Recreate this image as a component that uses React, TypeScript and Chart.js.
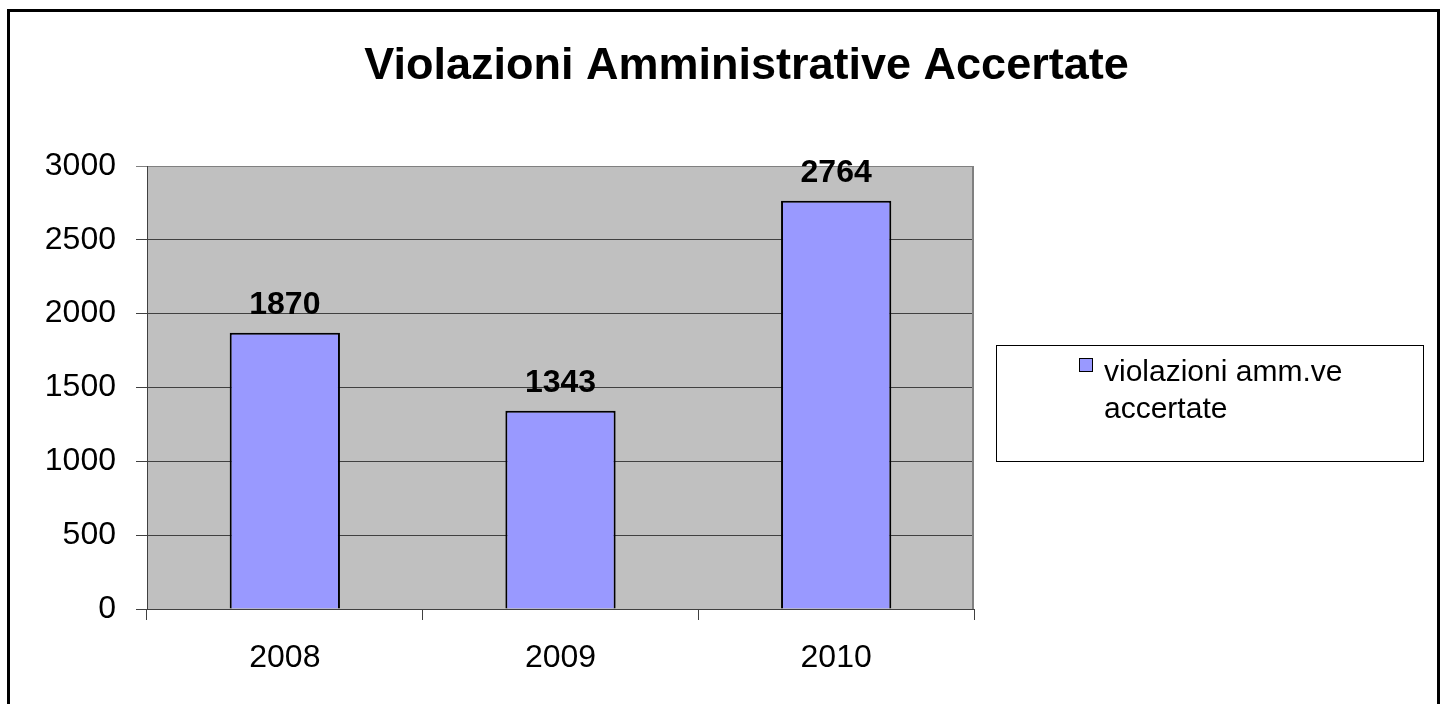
import React, { useEffect, useRef } from 'react';
import { Chart, registerables } from 'chart.js';

Chart.register(...registerables);

const TITLE = 'Violazioni Amministrative Accertate';
const CATEGORIES = ['2008', '2009', '2010'];
const VALUES = [1870, 1343, 2764];
const SERIES_LABEL_LINES = ['violazioni amm.ve', 'accertate'];
const Y_MIN = 0;
const Y_MAX = 3000;
const Y_STEP = 500;

const FONT = '"Liberation Sans", Arial, sans-serif';
const BAR_COLOR = '#9999ff';

const decorPlugin = {
  id: 'decor',
  beforeDraw(chart: any) {
    const { ctx, chartArea: a } = chart;
    ctx.save();
    ctx.fillStyle = '#ffffff';
    ctx.fillRect(0, 0, chart.width, chart.height);
    ctx.fillStyle = '#c0c0c0';
    ctx.fillRect(a.left, a.top, a.right - a.left, a.bottom - a.top);
    ctx.restore();
  },
  afterDatasetsDraw(chart: any) {
    const { ctx } = chart;
    const meta = chart.getDatasetMeta(0);
    ctx.save();
    ctx.fillStyle = '#000';
    ctx.font = `bold 32px ${FONT}`;
    ctx.textAlign = 'center';
    ctx.textBaseline = 'alphabetic';
    meta.data.forEach((bar: any, i: number) => {
      ctx.fillText(String(chart.data.datasets[0].data[i]), bar.x, bar.y - 19);
    });
    ctx.restore();
  },
  afterDraw(chart: any) {
    const { ctx, chartArea: a } = chart;
    ctx.save();
    // plot right border
    ctx.strokeStyle = '#808080';
    ctx.lineWidth = 2;
    ctx.beginPath();
    ctx.moveTo(a.right - 1, a.top);
    ctx.lineTo(a.right - 1, a.bottom);
    ctx.stroke();
    // outer frame
    ctx.strokeStyle = '#000';
    ctx.lineWidth = 3;
    ctx.strokeRect(8.5, 10.5, 1430, 800);
    // title
    ctx.fillStyle = '#000';
    ctx.font = `bold 45px ${FONT}`;
    ctx.textAlign = 'center';
    ctx.textBaseline = 'alphabetic';
    ctx.fillText(TITLE, 746.5, 79);
    // legend
    ctx.lineWidth = 1;
    ctx.strokeStyle = '#000';
    ctx.strokeRect(996.5, 345.5, 427, 116);
    const ds = chart.data.datasets[0];
    ctx.fillStyle = ds.backgroundColor;
    ctx.fillRect(1079.5, 358.5, 13, 13);
    ctx.strokeRect(1079.5, 358.5, 13, 13);
    ctx.fillStyle = '#000';
    ctx.font = `30px ${FONT}`;
    ctx.textAlign = 'left';
    SERIES_LABEL_LINES.forEach((line, i) => {
      ctx.fillText(line, 1104, 381 + i * 37);
    });
    ctx.restore();
  },
};

export default function App() {
  const canvasRef = useRef<HTMLCanvasElement | null>(null);

  useEffect(() => {
    const canvas = canvasRef.current;
    if (!canvas) return;
    const chart = new Chart(canvas, {
      type: 'bar',
      data: {
        labels: CATEGORIES,
        datasets: [
          {
            label: SERIES_LABEL_LINES.join(' '),
            data: VALUES,
            backgroundColor: BAR_COLOR,
            borderColor: '#000',
            borderWidth: 2,
            barPercentage: 0.8,
            categoryPercentage: 0.5,
          },
        ],
      },
      options: {
        responsive: false,
        animation: false,
        devicePixelRatio: 1,
        layout: { padding: { left: 0, top: 166, right: 472, bottom: 15 } },
        plugins: {
          legend: { display: false },
          title: { display: false },
          tooltip: { enabled: false },
        },
        scales: {
          x: {
            type: 'category',
            grid: {
              drawOnChartArea: false,
              drawTicks: true,
              tickLength: 11,
              color: '#404040',
              offset: true,
            },
            border: { color: '#404040', width: 1 },
            ticks: {
              color: '#000',
              font: { family: FONT, size: 32 },
              padding: 19,
            },
            afterFit: (s: any) => {
              s.height = 80;
            },
          },
          y: {
            type: 'linear',
            min: Y_MIN,
            max: Y_MAX,
            grid: {
              tickLength: 11,
              color: (c: any) => (c.tick && c.tick.value === Y_MAX ? '#808080' : '#404040'),
            },
            border: { color: '#404040', width: 1 },
            ticks: {
              stepSize: Y_STEP,
              color: '#000',
              font: { family: FONT, size: 32 },
              padding: 20,
              callback: (v: any) => String(v),
            },
            afterFit: (s: any) => {
              s.width = 147;
            },
          },
        },
      },
      plugins: [decorPlugin],
    } as any);
    return () => chart.destroy();
  }, []);

  return (
    <div
      style={{
        position: 'fixed',
        left: 0,
        top: 0,
        width: 1446,
        height: 704,
        background: '#fff',
        overflow: 'hidden',
      }}
    >
      <canvas ref={canvasRef} width={1446} height={704} style={{ width: 1446, height: 704, display: 'block' }} />
    </div>
  );
}
